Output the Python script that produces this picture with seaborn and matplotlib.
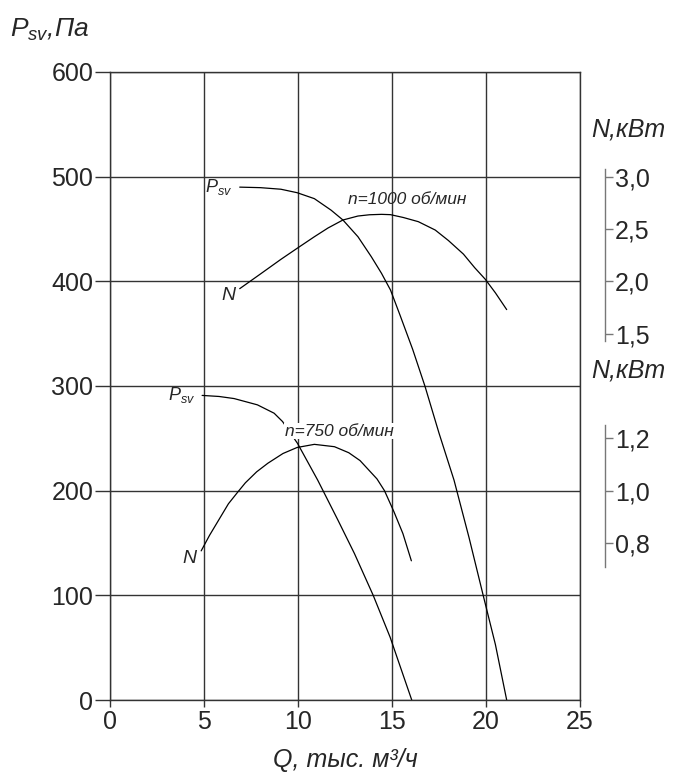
import numpy as np
import matplotlib
matplotlib.use("Agg")
import matplotlib.pyplot as plt
import seaborn as sns

# 1000 rpm: pressure curve (Q, Pa) and power curve (Q, kW)
q_p1000 = [6.9, 8.0, 9.09, 9.95, 10.87, 11.76, 12.39, 13.19, 13.9, 14.44, 14.92, 15.42,
           16.1, 16.75, 17.5, 18.3, 19.1, 19.85, 20.5, 21.1]
p_1000 = [490, 489.5, 488, 484.7, 479, 468, 458.6, 442.6, 423.5, 407.7, 391.7, 368,
          335, 300, 255, 210, 155, 100, 53, 0]
q_n1000 = [6.9, 8.0, 9.09, 9.95, 10.87, 11.6, 12.39, 13.19, 13.8, 14.44, 14.92, 15.6,
           16.4, 17.3, 18.0, 18.8, 19.4, 19.96, 20.5, 21.1]
n_1000 = [1.93, 2.07, 2.21, 2.315, 2.426, 2.51, 2.586, 2.624, 2.636, 2.64, 2.637, 2.61,
          2.57, 2.49, 2.39, 2.26, 2.13, 2.02, 1.89, 1.73]

# 750 rpm
q_p750 = [4.9, 5.8, 6.6, 7.84, 8.73, 9.18, 9.98, 11.05, 12.12, 13.0, 14.0, 14.9, 16.05]
p_750 = [291, 290, 288, 282, 274, 266, 245, 210, 172, 140, 100, 60, 0]
q_n750 = [4.85, 5.3, 5.8, 6.3, 6.8, 7.2, 7.8, 8.4, 9.2, 9.95, 10.87, 11.94, 12.7, 13.3,
          14.2, 14.6, 15.1, 15.58, 16.03]
n_750 = [0.77, 0.83, 0.89, 0.95, 0.995, 1.03, 1.072, 1.105, 1.142, 1.165, 1.177, 1.168, 1.145,
         1.115, 1.045, 1.0, 0.92, 0.836, 0.732]

x_ticks = [0, 5, 10, 15, 20, 25]
y_ticks = [0, 100, 200, 300, 400, 500, 600]
n1000_ticks = [1.5, 2.0, 2.5, 3.0]
n1000_labels = ["1,5", "2,0", "2,5", "3,0"]
n750_ticks = [0.8, 1.0, 1.2]
n750_labels = ["0,8", "1,0", "1,2"]

sns.set_style("white")
plt.rcParams["font.family"] = ["Liberation Sans", "DejaVu Sans"]
plt.rcParams["mathtext.fontset"] = "custom"
plt.rcParams["mathtext.it"] = "Liberation Sans:italic"
plt.rcParams["mathtext.rm"] = "Liberation Sans"

fig = plt.figure(figsize=(6.92, 7.82), dpi=100)
ax = fig.add_axes([110 / 692, 1 - 700 / 782, 470 / 692, 628 / 782])

grid_c = "#333333"
ax.set_xlim(0, 25)
ax.set_ylim(0, 600)
ax.set_xticks(x_ticks)
ax.set_yticks(y_ticks)
ax.grid(True, color=grid_c, lw=1.0)
for s in ax.spines.values():
    s.set_color(grid_c)
    s.set_linewidth(1.0)
ax.tick_params(axis="x", direction="out", length=5, width=1.0, color=grid_c,
               labelsize=18, pad=2, bottom=True)
ax.tick_params(axis="y", direction="out", length=11, width=1.0, color=grid_c,
               labelsize=18, pad=1, left=True)

lw = 0.9
sns.lineplot(x=q_p1000, y=p_1000, ax=ax, color="black", lw=lw, sort=False, estimator=None)
sns.lineplot(x=q_p750, y=p_750, ax=ax, color="black", lw=lw, sort=False, estimator=None)

# power axis for 1000 rpm: N = (P - 200) / 100
ax1 = ax.twinx()
ax1.set_ylim(-2, 4)
sns.lineplot(x=q_n1000, y=n_1000, ax=ax1, color="black", lw=lw, sort=False, estimator=None)

# power axis for 750 rpm: N = (P + 50) / 250
ax2 = ax.twinx()
ax2.set_ylim(0.2, 2.6)
sns.lineplot(x=q_n750, y=n_750, ax=ax2, color="black", lw=lw, sort=False, estimator=None)

for tw, ticks, labels, bounds in [(ax1, n1000_ticks, n1000_labels, (1.43, 3.07)),
                                  (ax2, n750_ticks, n750_labels, (0.71, 1.25))]:
    tw.set_xlim(0, 25)
    tw.grid(False)
    for name in ["top", "bottom", "left"]:
        tw.spines[name].set_visible(False)
    tw.spines["right"].set_position(("axes", 495 / 470))
    tw.spines["right"].set_bounds(*bounds)
    tw.spines["right"].set_color("#777777")
    tw.spines["right"].set_linewidth(1.0)
    tw.set_yticks(ticks)
    tw.set_yticklabels(labels)
    tw.tick_params(axis="y", direction="out", length=6, width=1.0, color="#777777",
                   labelsize=18, pad=1)
    tw.set_ylabel("")

# curve labels
ax.text(6.5, 490, "$P_{sv}$", ha="right", va="center", fontsize=13, style="italic")
ax.text(6.7, 386, "N", ha="right", va="center", fontsize=14, style="italic")
ax.text(15.8, 478, "n=1000 об/мин", ha="center", va="center", fontsize=12.5, style="italic")
ax.text(4.55, 291, "$P_{sv}$", ha="right", va="center", fontsize=13, style="italic")
ax.text(4.6, 135, "N", ha="right", va="center", fontsize=14, style="italic")
ax.text(12.2, 257, "n=750 об/мин", ha="center", va="center", fontsize=12.5, style="italic",
        bbox=dict(facecolor="white", edgecolor="none", pad=0.5), zorder=5)

# axis titles
fig.text(10 / 692, 1 - 30 / 782, "$P_{sv}$,Па", ha="left", va="center", fontsize=19, style="italic")
fig.text(345 / 692, 1 - 760 / 782, "Q, тыс. м³/ч", ha="center", va="center", fontsize=18, style="italic")
fig.text(628 / 692, 1 - 130 / 782, "N,кВт", ha="center", va="center", fontsize=18, style="italic")
fig.text(628 / 692, 1 - 370 / 782, "N,кВт", ha="center", va="center", fontsize=18, style="italic")

fig.savefig("out.png", dpi=100, facecolor="white")
